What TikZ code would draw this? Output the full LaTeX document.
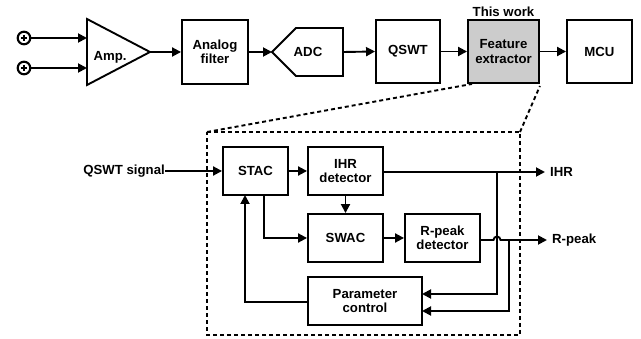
\documentclass[tikz,border=0pt]{standalone}
\usepackage{fontspec}
\setmainfont{Liberation Sans}
\usetikzlibrary{arrows.meta,calc}
\begin{document}
\begin{tikzpicture}[x=1pt,y=-1pt,
  blk/.style={draw, line width=1.9pt, align=center, font=\fontsize{13.2}{14.2}\selectfont\bfseries, inner sep=0pt},
  lbl/.style={font=\fontsize{13.2}{14.2}\selectfont\bfseries, inner sep=0pt},
  wire/.style={line width=1.9pt},
  arr/.style={wire, -{Triangle[length=9pt,width=9pt]}},
  dashline/.style={line width=1.9pt, dash pattern=on 4pt off 3pt},
  src/.style={circle, minimum size=14pt, inner sep=0pt}]
\useasboundingbox (0,0) rectangle (641,339);

% inputs
\node[src] (in1) at (24,38) {};
\node[src] (in2) at (24,68) {};
\foreach \n in {in1,in2}{
  \draw[line width=2.1pt] (\n) circle[radius=6.3pt];
  \draw[line width=2pt] ($(\n)+(-3,0)$) -- ($(\n)+(3,0)$);
  \draw[line width=2pt] ($(\n)+(0,-3)$) -- ($(\n)+(0,3)$);
}

% amplifier
\coordinate (ampT) at (87,19);
\coordinate (ampB) at (87,85);
\coordinate (ampO) at (150,52);
\draw[line width=1.9pt, line join=miter] (ampT) -- (ampO) -- (ampB) -- cycle;
\node[lbl] (amp) at (110,57) {Amp.};
\coordinate (ampI1) at (87,38);
\coordinate (ampI2) at (87,68);
\draw[arr] (in1.east) -- (ampI1);
\draw[arr] (in2.east) -- (ampI2);

% top row
\node[blk, minimum width=66pt, minimum height=64pt] (filt) at (215,52) {Analog\\filter};
\coordinate (adcL) at (272,52);
\draw[line width=1.9pt, line join=miter] (adcL) -- (296,28) -- (343,28) -- (343,76) -- (296,76) -- cycle;
\node[lbl] (adc) at (308,52) {ADC};
\coordinate (adcR) at (343,52);
\node[blk, minimum width=64pt, minimum height=63pt] (qswt) at (408,51.5) {QSWT};
\node[blk, minimum width=71pt, minimum height=63pt, fill=black!20] (fe) at (503.5,51.5) {Feature\\extractor};
\node[lbl, anchor=south] (tw) at (503.5,17) {This work};
\node[blk, minimum width=65pt, minimum height=63pt] (mcu) at (599.5,51.5) {MCU};

\draw[arr] (ampO) -- (filt.west);
\draw[arr] (filt.east) -- (adcL);
\draw[arr] (adcR) -- (qswt.west);
\draw[arr] (qswt.east) -- (fe.west);
\draw[arr] (fe.east) -- (mcu.west);

% dashed zoom box
\coordinate (dTL) at (207,132);
\coordinate (dTR) at (520,132);
\coordinate (dBL) at (207,335);
\coordinate (dBR) at (520,335);
\draw[dashline] (dTL) -- (dTR) -- (dBR) -- (dBL) -- cycle;
\draw[dashline] (dTL) -- ($(fe.south west)+(5,0)$);
\draw[dashline] (dTR) -- ($(fe.south east)+(0,2)$);

% inner blocks
\node[blk, minimum width=65pt, minimum height=48pt] (stac) at (255.5,171) {STAC};
\node[blk, minimum width=75pt, minimum height=48pt] (ihr) at (345.5,171) {IHR\\detector};
\node[blk, minimum width=75pt, minimum height=48pt] (swac) at (345.5,238) {SWAC};
\node[blk, minimum width=75pt, minimum height=48pt] (rpk) at (442.5,238) {R-peak\\detector};
\node[blk, minimum width=114pt, minimum height=48pt] (par) at (365,301) {Parameter\\control};

% input signal
\node[lbl, anchor=east] (qs) at (165,171) {QSWT signal};
\draw[arr] (qs.east) -- (stac.west);

\draw[arr] (stac.east) -- (ihr.west);
\draw[arr] (ihr.south) -- (swac.north);
\coordinate (sb) at (264,195);
\draw[arr] (sb) |- (swac.west);
\draw[arr] (swac.east) -- (rpk.west);

\coordinate (pl) at (308,302);
\coordinate (sb2) at (245,195);
\draw[arr] (pl) -| (sb2);

% outputs
\node[lbl, anchor=west] (oihr) at (550,172) {IHR};
\node[lbl, anchor=west] (orp) at (552,240) {R-peak};
\coordinate (ihrEnd) at (545,172);
\coordinate (rpEnd) at (547,240);
\coordinate (b1) at (497,172);
\coordinate (b2) at (509,240);
\coordinate (pin1) at (422,294);
\coordinate (pin2) at (422,311);
\draw[arr] (ihr.east |- ihrEnd) -- (ihrEnd);
\draw[arr] (b1) |- (pin1);
\draw[arr] (rpk.east |- rpEnd) -- (493.5,240) arc[start angle=180, end angle=0, radius=3.5pt] -- (rpEnd);
\draw[arr] (b2) |- (pin2);
\end{tikzpicture}
\end{document}
